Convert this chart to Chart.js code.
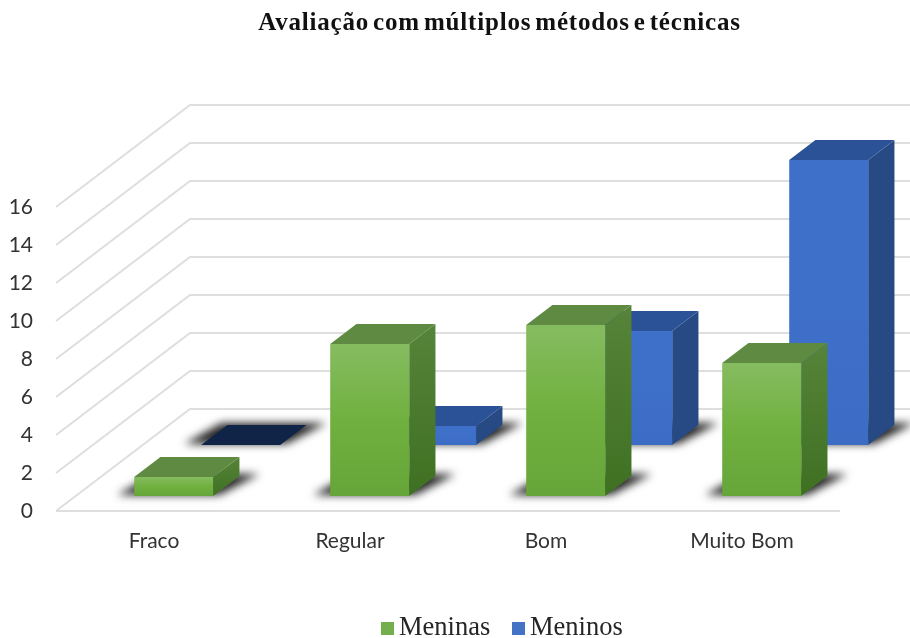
<!DOCTYPE html>
<html lang="pt">
<head>
<meta charset="utf-8">
<title>Avaliação com múltiplos métodos e técnicas</title>
<script src="https://cdn.jsdelivr.net/npm/chart.js@4"></script>
<style>
  html, body { margin: 0; padding: 0; background: #fff; }
  #wrap { width: 910px; height: 638px; }
</style>
</head>
<body>
<div id="wrap"><canvas id="chart" width="910" height="638"></canvas></div>
<script>
// Chart content
const chartTitle = 'Avaliação com múltiplos métodos e técnicas';
const categories = ['Fraco', 'Regular', 'Bom', 'Muito Bom'];
const meninas = [1, 8, 9, 7];
const meninos = [0, 1, 6, 15];

// Oblique projection of the floor: full depth of the plot in pixels
const DEPTH_X = 134;
const DEPTH_Y = 102;
const BAR_DEPTH = 0.196;         // bar depth as a share of the floor depth
const LABEL_FONT = 'Lato, "Open Sans", sans-serif';
const SERIF_FONT = '"Liberation Serif", serif';
const GRID = '#dedede';

const greenFaces = {
  legend: '#75ae4c',
  front: ['#86bc60', '#70b03f', '#66a539'],
  side: ['#56843a', '#3f7022'],
  top: '#5e8b41',
  empty: '#0f2447'
};
const blueFaces = {
  legend: '#4472c4',
  front: ['#3f70c9', '#3f70c9', '#3c6cc4'],
  side: ['#274a84', '#274a84'],
  top: '#2b5296',
  empty: '#0f2447'
};

function polygon(ctx, pts) {
  ctx.beginPath();
  pts.forEach((p, i) => (i ? ctx.lineTo(p[0], p[1]) : ctx.moveTo(p[0], p[1])));
  ctx.closePath();
}

// Bar controller that extrudes each bar into a box on the slanted floor
class Bar3DController extends Chart.BarController {
  draw() {
    const ctx = this.chart.ctx;
    const ds = this.getDataset();
    const faces = ds.faces;
    const z = ds.floorOffset;
    const dx = DEPTH_X * BAR_DEPTH;
    const dy = DEPTH_Y * BAR_DEPTH;
    const bars = this._cachedMeta.data.map((el) => {
      const half = el.width / 2;
      const ox = DEPTH_X * z;
      const oy = DEPTH_Y * z;
      return { l: el.x - half + ox, r: el.x + half + ox, t: el.y - oy, b: el.base - oy };
    });

    // Soft contact shadows lie on the floor beneath the boxes
    ctx.save();
    ctx.filter = 'blur(4px)';
    ctx.fillStyle = 'rgba(25,25,25,0.95)';
    bars.forEach((b) => {
      polygon(ctx, [
        [b.l - 17, b.b - 1],
        [b.r + 6, b.b - 1],
        [b.r + dx + 20, b.b - dy - 2],
        [b.l + dx - 6, b.b - dy - 2]
      ]);
      ctx.fill();
    });
    ctx.restore();

    bars.forEach((b, i) => {
      const value = ds.data[i];
      // side face
      const side = ctx.createLinearGradient(0, b.t - dy, 0, b.b);
      side.addColorStop(0, faces.side[0]);
      side.addColorStop(1, faces.side[1]);
      ctx.fillStyle = side;
      polygon(ctx, [[b.r, b.t], [b.r + dx, b.t - dy], [b.r + dx, b.b - dy], [b.r, b.b]]);
      ctx.fill();
      // top face
      ctx.fillStyle = value === 0 ? faces.empty : faces.top;
      polygon(ctx, [[b.l, b.t], [b.r, b.t], [b.r + dx, b.t - dy], [b.l + dx, b.t - dy]]);
      ctx.fill();
      // front face
      if (value > 0) {
        const front = ctx.createLinearGradient(0, b.t, 0, b.b);
        front.addColorStop(0, faces.front[0]);
        front.addColorStop(0.5, faces.front[1]);
        front.addColorStop(1, faces.front[2]);
        ctx.fillStyle = front;
        ctx.fillRect(b.l, b.t, b.r - b.l, b.b - b.t);
      }
    });
  }
}
Bar3DController.id = 'bar3d';
Bar3DController.defaults = Chart.BarController.defaults;
Chart.register(Bar3DController);

// Back wall, side wall and floor lines, taken from the value scale's ticks
const wallGrid = {
  id: 'wallGrid',
  beforeDatasetsDraw(chart) {
    const { ctx, chartArea, scales } = chart;
    ctx.save();
    ctx.strokeStyle = GRID;
    ctx.lineWidth = 2;
    scales.y.ticks.forEach((tick) => {
      const y = scales.y.getPixelForValue(tick.value);
      ctx.beginPath();
      ctx.moveTo(chartArea.left, y);
      ctx.lineTo(chartArea.left + DEPTH_X, y - DEPTH_Y);
      ctx.lineTo(chart.width, y - DEPTH_Y);
      ctx.stroke();
    });
    const y0 = scales.y.getPixelForValue(0);
    ctx.beginPath();
    ctx.moveTo(chartArea.left, y0);
    ctx.lineTo(chartArea.right, y0);
    ctx.stroke();
    ctx.restore();
  }
};

// Title and legend sit off-centre, to the right of the plot's middle
const captions = {
  id: 'captions',
  afterDraw(chart) {
    const ctx = chart.ctx;
    ctx.save();
    ctx.textBaseline = 'alphabetic';
    ctx.textAlign = 'center';
    ctx.fillStyle = '#111111';
    ctx.font = 'bold 25px ' + SERIF_FONT;
    ctx.letterSpacing = '0.8px';
    ctx.wordSpacing = '-3px';
    ctx.fillText(chartTitle, 499.5, 30);

    ctx.letterSpacing = '0px';
    ctx.wordSpacing = '0px';
    ctx.textAlign = 'left';
    ctx.font = '26.5px ' + SERIF_FONT;
    const slots = [381, 512];
    chart.data.datasets.forEach((ds, i) => {
      ctx.fillStyle = ds.faces.legend;
      ctx.fillRect(slots[i], 622, 13, 13);
      ctx.fillStyle = '#262626';
      ctx.fillText(ds.label, slots[i] + 18, 635);
    });
    ctx.restore();
  }
};

new Chart(document.getElementById('chart'), {
  type: 'bar3d',
  data: {
    labels: categories,
    datasets: [
      {
        label: 'Meninas',
        data: meninas,
        faces: greenFaces,
        floorOffset: 0.147,
        backgroundColor: greenFaces.legend,
        order: 0,
        clip: false
      },
      {
        label: 'Meninos',
        data: meninos,
        faces: blueFaces,
        floorOffset: 0.647,
        backgroundColor: blueFaces.legend,
        order: 1,
        clip: false
      }
    ]
  },
  options: {
    responsive: false,
    animation: false,
    layout: { padding: { top: 207, right: 70, bottom: 77, left: 0 } },
    datasets: { bar3d: { grouped: false, barThickness: 79 } },
    plugins: { legend: { display: false }, title: { display: false }, tooltip: { enabled: false } },
    scales: {
      x: {
        type: 'category',
        grid: { display: false, drawTicks: false },
        border: { display: false },
        afterFit(scale) { scale.height = 50; },
        ticks: {
          color: '#333333',
          maxRotation: 0,
          padding: 18,
          font: { family: LABEL_FONT, size: 21 }
        }
      },
      y: {
        type: 'linear',
        min: 0,
        max: 16,
        grid: { display: false, drawTicks: false },
        border: { display: false },
        afterFit(scale) { scale.width = 56; },
        ticks: {
          stepSize: 2,
          color: '#333333',
          padding: 23,
          font: { family: LABEL_FONT, size: 21 }
        }
      }
    }
  },
  plugins: [wallGrid, captions]
});
</script>
</body>
</html>
